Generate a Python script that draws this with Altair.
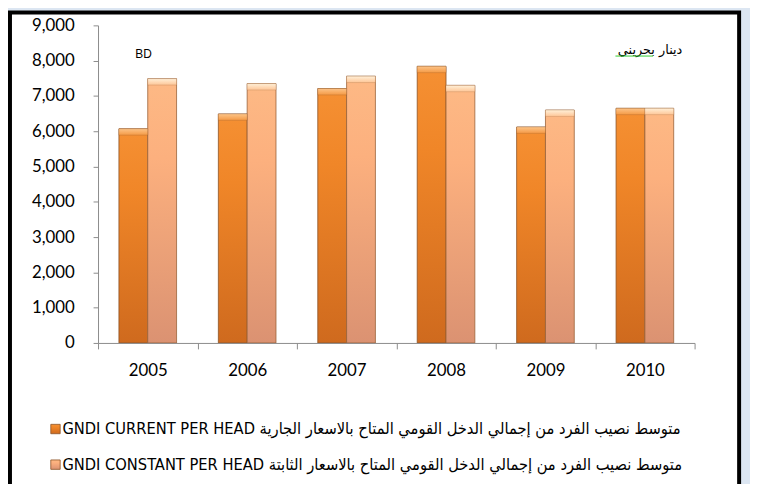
import altair as alt
import pandas as pd

years = ["2005", "2006", "2007", "2008", "2009", "2010"]
current_vals = [6070, 6490, 7210, 7840, 6120, 6650]
constant_vals = [7490, 7350, 7560, 7300, 6600, 6650]
series = ["GNDI CURRENT PER HEAD", "GNDI CONSTANT PER HEAD"]
legend_texts = [
    "GNDI CURRENT PER HEAD  متوسط نصيب الفرد من إجمالي  الدخل القومي المتاح بالاسعار الجارية",
    "GNDI CONSTANT PER HEAD  متوسط نصيب الفرد من إجمالي  الدخل القومي المتاح بالاسعار الثابتة",
]
y_ticks = [0, 1000, 2000, 3000, 4000, 5000, 6000, 7000, 8000, 9000]
unit_en = "BD"
unit_ar = "دينار بحريني"

rows = []
for i, yr in enumerate(years):
    rows.append({"year": yr, "series": series[0], "value": current_vals[i]})
    rows.append({"year": yr, "series": series[1], "value": constant_vals[i]})
df = pd.DataFrame(rows)

grad_cur = {
    "gradient": "linear", "x1": 0, "y1": 0, "x2": 0, "y2": 1,
    "stops": [
        {"offset": 0, "color": "#f59033"},
        {"offset": 0.3, "color": "#f08628"},
        {"offset": 1, "color": "#cf6a1e"},
    ],
}
grad_con = {
    "gradient": "linear", "x1": 0, "y1": 0, "x2": 0, "y2": 1,
    "stops": [
        {"offset": 0, "color": "#fdb985"},
        {"offset": 0.3, "color": "#fcb07e"},
        {"offset": 1, "color": "#db9272"},
    ],
}
bevel_cur = {
    "gradient": "linear", "x1": 0, "y1": 0, "x2": 0, "y2": 1,
    "stops": [{"offset": 0, "color": "#fcc489"}, {"offset": 1, "color": "#f59a45"}],
}
bevel_con = {
    "gradient": "linear", "x1": 0, "y1": 0, "x2": 0, "y2": 1,
    "stops": [{"offset": 0, "color": "#fff0d8"}, {"offset": 1, "color": "#fec697"}],
}

x_enc = alt.X(
    "year:N",
    sort=years,
    scale=alt.Scale(paddingInner=0, paddingOuter=0),
    axis=alt.Axis(
        title=None, labelAngle=0, labelFontSize=17, labelFont="Lato",
        labelColor="#000000", domainColor="#8c8c8c", tickColor="#8c8c8c",
        tickSize=6, tickBand="extent", labelPadding=14, zindex=1,
    ),
)
xoff_enc = alt.XOffset(
    "series:N", sort=series,
    scale=alt.Scale(domain=series, paddingInner=0, paddingOuter=0.725),
)
y_scale = alt.Scale(domain=[0, 9000], nice=False)
y_enc = alt.Y(
    "value:Q",
    scale=y_scale,
    axis=alt.Axis(
        title=None, values=y_ticks, format=",d", labelFontSize=17,
        labelFont="Lato", labelColor="#000000", grid=False,
        domainColor="#8c8c8c", tickColor="#8c8c8c", tickSize=5,
        labelPadding=19, zindex=1,
    ),
)

one = pd.DataFrame({"a": [0]})

frame = alt.Chart(one).mark_rect(
    fill="#ffffff", stroke="#000000", strokeWidth=4
).encode(
    x=alt.value(-89), x2=alt.value(648), y=alt.value(-13), y2=alt.value(480)
)

base = alt.Chart(df).encode(x=x_enc, xOffset=xoff_enc, y=y_enc)
bars_cur = base.transform_filter(alt.datum.series == series[0]).mark_bar(
    color=grad_cur, stroke="#8a5226", strokeWidth=1, strokeOpacity=0.8
)
bars_con = base.transform_filter(alt.datum.series == series[1]).mark_bar(
    color=grad_con, stroke="#9a6238", strokeWidth=1, strokeOpacity=0.8
)

bevel_base = alt.Chart(df).transform_calculate(
    bevel_low="datum.value - 180"
).encode(x=x_enc, xOffset=xoff_enc, y=y_enc, y2="bevel_low:Q")
bev_cur = bevel_base.transform_filter(alt.datum.series == series[0]).mark_bar(
    color=bevel_cur, stroke="#8a5226", strokeWidth=0.6, strokeOpacity=0.4
)
bev_con = bevel_base.transform_filter(alt.datum.series == series[1]).mark_bar(
    color=bevel_con, stroke="#9a6238", strokeWidth=0.6, strokeOpacity=0.4
)

bd_text = alt.Chart(one).mark_text(
    text=unit_en, fontSize=12, font="Liberation Sans", color="#000000"
).encode(x=alt.value(46), y=alt.value(29))

ar_text = alt.Chart(one).mark_text(
    text=unit_ar, fontSize=13, font="DejaVu Sans", color="#000000"
).encode(x=alt.value(558), y=alt.value(25))

ar_underline = alt.Chart(one).mark_rule(color="#33cc33", strokeWidth=1).encode(
    x=alt.value(523), x2=alt.value(561), y=alt.value(31)
)

legend_layers = []
sym_grads = [grad_cur, grad_con]
for i in range(2):
    ypos = 408 + 36 * i
    legend_layers.append(
        alt.Chart(one).mark_square(
            size=90, fill=sym_grads[i], stroke="#8a5226", strokeWidth=0.8, opacity=1
        ).encode(x=alt.value(-43), y=alt.value(ypos))
    )
    legend_layers.append(
        alt.Chart(one).mark_text(
            text=legend_texts[i], fontSize=16.5, font="DejaVu Sans Condensed",
            align="left", baseline="middle", color="#000000"
        ).encode(x=alt.value(-36), y=alt.value(ypos))
    )

chart = alt.layer(
    frame, bars_cur, bars_con, bev_cur, bev_con, bd_text, ar_text, ar_underline,
    *legend_layers
).properties(
    width=603, height=321,
    background="#dce6f2",
    padding={"left": 91, "top": 15, "right": 56, "bottom": 140},
    autosize=alt.AutoSizeParams(type="none"),
).configure_view(stroke=None)

chart.save("out.html", embed_options={"renderer": "svg", "actions": False})
